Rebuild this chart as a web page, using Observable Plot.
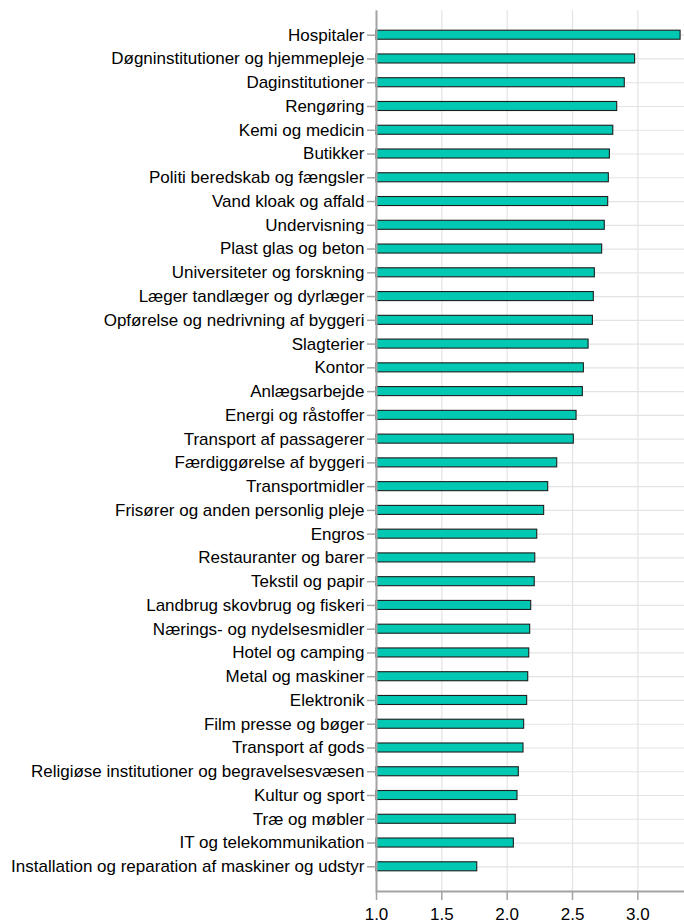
<!DOCTYPE html>
<html>
<head>
<meta charset="utf-8">
<script src="https://cdn.jsdelivr.net/npm/d3@7"></script>
<script src="https://cdn.jsdelivr.net/npm/@observablehq/plot@0.6"></script>
<style>
  html, body { margin: 0; padding: 0; background: #fff; }
  #chart { width: 684px; height: 924px; }
</style>
</head>
<body>
<div id="chart"></div>
<script>
const categories = [
  "Hospitaler",
  "Døgninstitutioner og hjemmepleje",
  "Daginstitutioner",
  "Rengøring",
  "Kemi og medicin",
  "Butikker",
  "Politi beredskab og fængsler",
  "Vand kloak og affald",
  "Undervisning",
  "Plast glas og beton",
  "Universiteter og forskning",
  "Læger tandlæger og dyrlæger",
  "Opførelse og nedrivning af byggeri",
  "Slagterier",
  "Kontor",
  "Anlægsarbejde",
  "Energi og råstoffer",
  "Transport af passagerer",
  "Færdiggørelse af byggeri",
  "Transportmidler",
  "Frisører og anden personlig pleje",
  "Engros",
  "Restauranter og barer",
  "Tekstil og papir",
  "Landbrug skovbrug og fiskeri",
  "Nærings- og nydelsesmidler",
  "Hotel og camping",
  "Metal og maskiner",
  "Elektronik",
  "Film presse og bøger",
  "Transport af gods",
  "Religiøse institutioner og begravelsesvæsen",
  "Kultur og sport",
  "Træ og møbler",
  "IT og telekommunikation",
  "Installation og reparation af maskiner og udstyr"
];
const values = [
  3.327, 2.979, 2.900, 2.842, 2.812, 2.786, 2.778, 2.773, 2.747, 2.727,
  2.671, 2.663, 2.656, 2.623, 2.587, 2.579, 2.531, 2.510, 2.383, 2.314,
  2.283, 2.230, 2.215, 2.211, 2.184, 2.176, 2.169, 2.161, 2.153, 2.130,
  2.125, 2.089, 2.079, 2.066, 2.051, 1.771
];
const xTicks = [1.0, 1.5, 2.0, 2.5, 3.0];
const xDomain = [1, 3.357];
const baseline = 1;

const data = categories.map((c, i) => ({cat: c, value: values[i]}));

const W = 684, H = 924, mL = 376, mR = 0, mT = 10, mB = 33;
const fw = W - mL - mR, fh = H - mT - mB;

const chart = Plot.plot({
  width: W,
  height: H,
  marginLeft: mL,
  marginRight: mR,
  marginTop: mT,
  marginBottom: mB,
  style: {fontFamily: "'Liberation Sans', Arial, sans-serif", fontSize: "17px", color: "#000", background: "#fff"},
  x: {domain: xDomain, ticks: xTicks},
  y: {domain: categories, paddingInner: 0.62, paddingOuter: 0.85, round: false},
  marks: [
    Plot.gridX(xTicks, {stroke: "#e3e3e3", strokeOpacity: 1, strokeWidth: 1.2}),
    Plot.gridY(categories, {stroke: "#e3e3e3", strokeOpacity: 1, strokeWidth: 1.2}),
    Plot.barX(data, {x1: () => baseline, x2: "value", y: "cat", fill: "#00c8b2", stroke: "#1e1e1e", strokeWidth: 1.1}),
    Plot.frame({stroke: "#a3a3a3", strokeWidth: 2, strokeDasharray: `0 ${fw + fh} ${fw + fh}`}),
    Plot.axisX(xTicks, {tickSize: 9, tickPadding: 7, stroke: "#a3a3a3", strokeWidth: 1.5, fill: "#000", tickFormat: d3.format(".1f"), label: null}),
    Plot.axisY(categories, {tickSize: 9, tickPadding: 3, stroke: "#a3a3a3", strokeWidth: 1.5, fill: "#000", label: null})
  ]
});
document.getElementById("chart").appendChild(chart);
</script>
</body>
</html>
